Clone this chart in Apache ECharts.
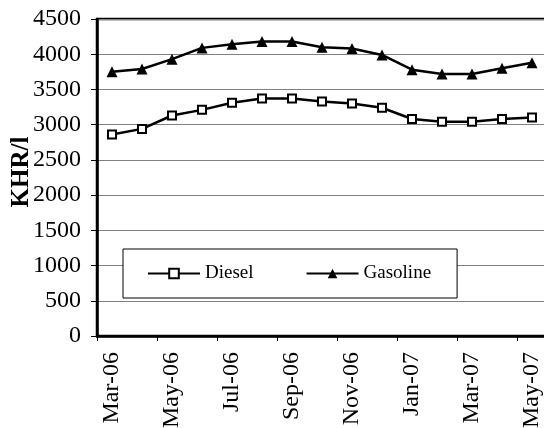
<!DOCTYPE html>
<html>
<head>
<meta charset="utf-8">
<script src="https://cdn.jsdelivr.net/npm/echarts@6/dist/echarts.min.js"></script>
<style>
html,body{margin:0;padding:0;background:#fff;}
#c{width:544px;height:428px;}
</style>
</head>
<body>
<div id="c"></div>
<script>
var categories = ['Mar-06','Apr-06','May-06','Jun-06','Jul-06','Aug-06','Sep-06','Oct-06','Nov-06','Dec-06','Jan-07','Feb-07','Mar-07','Apr-07','May-07'];
var diesel = [2860, 2940, 3130, 3210, 3310, 3370, 3370, 3330, 3300, 3240, 3080, 3040, 3040, 3080, 3100];
var gasoline = [3750, 3790, 3930, 4090, 4140, 4180, 4180, 4100, 4080, 3990, 3780, 3720, 3720, 3800, 3880];
var yTicks = {min: 0, max: 4500, interval: 500};
var yName = 'KHR/l';

var font = 'Liberation Serif';
var chart = echarts.init(document.getElementById('c'), null, {renderer: 'canvas'});
chart.setOption({
  animation: false,
  backgroundColor: '#fff',
  grid: {
    left: 97, top: 19, right: -3, bottom: 92,
    containLabel: false, outerBoundsMode: 'none',
    show: true, borderColor: '#000', borderWidth: 2.5, backgroundColor: 'transparent'
  },
  graphic: [{
    type: 'text',
    x: 22, y: 172,
    rotation: Math.PI / 2,
    style: {
      text: yName, fill: '#000',
      font: 'bold 25px "Liberation Serif"',
      align: 'center', verticalAlign: 'middle'
    }
  }],
  legend: {
    left: 123, top: 249,
    orient: 'horizontal',
    backgroundColor: '#fff',
    borderColor: '#000', borderWidth: 1,
    padding: [15, 26, 15, 24],
    itemWidth: 52, itemHeight: 12, itemGap: 52,
    textStyle: {fontFamily: font, fontSize: 19, color: '#000'},
    data: ['Diesel', 'Gasoline']
  },
  xAxis: {
    type: 'category',
    data: categories,
    boundaryGap: true,
    axisLine: {lineStyle: {color: '#000', width: 2.5}},
    axisTick: {show: true, interval: 1, length: 5, lineStyle: {color: '#000', width: 1}},
    axisLabel: {interval: 1, rotate: 90, margin: 16, fontFamily: font, fontSize: 24, color: '#000'},
    splitLine: {show: false}
  },
  yAxis: {
    type: 'value',
    min: yTicks.min, max: yTicks.max, interval: yTicks.interval,
    axisLine: {show: true, lineStyle: {color: '#000', width: 2.5}},
    axisTick: {show: true, length: 6, lineStyle: {color: '#000', width: 1}},
    axisLabel: {margin: 16, fontFamily: font, fontSize: 24, color: '#000', formatter: function (v) { return String(v); }},
    splitLine: {show: true, lineStyle: {color: '#808080', width: 1}}
  },
  series: [
    {
      name: 'Diesel', type: 'line', data: diesel,
      symbol: 'rect', symbolSize: 8, showAllSymbol: true,
      lineStyle: {color: '#000', width: 2.5},
      itemStyle: {color: '#fff', borderColor: '#000', borderWidth: 2}
    },
    {
      name: 'Gasoline', type: 'line', data: gasoline,
      symbol: 'triangle', symbolSize: [11, 11], showAllSymbol: true,
      lineStyle: {color: '#000', width: 2.5},
      itemStyle: {color: '#000', borderColor: '#000', borderWidth: 0}
    }
  ]
});
</script>
</body>
</html>
